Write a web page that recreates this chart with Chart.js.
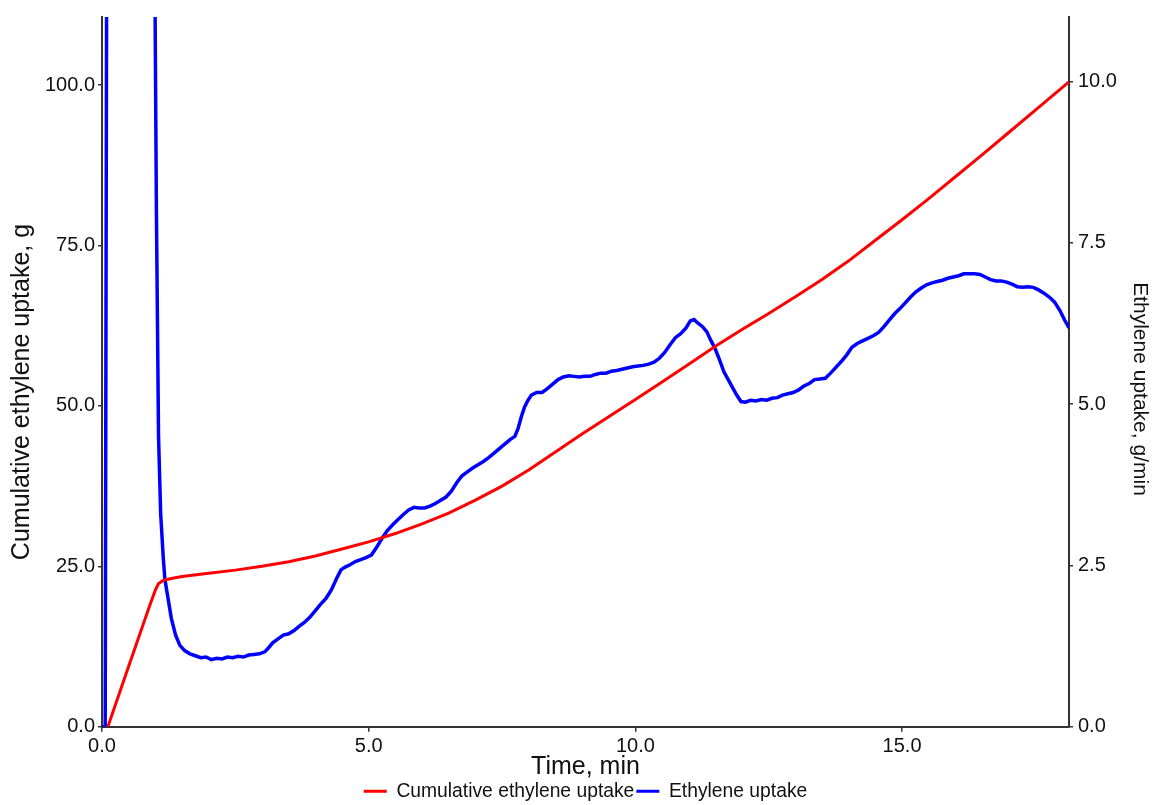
<!DOCTYPE html>
<html>
<head>
<meta charset="utf-8">
<script src="https://cdn.jsdelivr.net/npm/chart.js@4.4.1/dist/chart.umd.min.js"></script>
<style>
  html, body { margin: 0; padding: 0; background: #fff; }
  #wrap { width: 1156px; height: 805px; }
</style>
</head>
<body>
<div id="wrap"><canvas id="c" width="1156" height="805"></canvas></div>
<script>
// Cumulative ethylene uptake (g) against time (min)
const cumTime = [0.11, 0.4, 0.7, 0.9, 1.0, 1.06, 1.15, 1.3, 1.5, 2.0, 2.5, 3.0, 3.5, 4.0, 4.5, 5.0, 5.5, 6.0, 6.5, 7.0, 7.5, 8.0, 8.5, 9.0, 9.5, 10.0, 10.5, 11.0, 11.5, 12.0, 12.5, 13.0, 13.5, 14.0, 14.5, 15.0, 15.5, 16.0, 16.5, 17.0, 17.5, 18.13];
const cumUptake = [0, 7.0, 14.2, 19.0, 21.3, 22.3, 22.8, 23.1, 23.4, 23.9, 24.4, 25.0, 25.7, 26.6, 27.7, 28.8, 30.1, 31.6, 33.3, 35.3, 37.5, 40.0, 42.8, 45.6, 48.3, 51.0, 53.7, 56.5, 59.3, 61.9, 64.4, 67.0, 69.7, 72.6, 75.8, 79.0, 82.3, 85.7, 89.1, 92.6, 96.1, 100.5];

// Ethylene uptake rate (g/min) against time (min)
const rateTime = [0.0, 0.06, 0.09, 0.98, 1.02, 1.06, 1.10, 1.15, 1.18, 1.22, 1.30, 1.38, 1.46, 1.55, 1.65, 1.75, 1.85, 1.95, 2.05, 2.15, 2.25, 2.35, 2.45, 2.55, 2.65, 2.75, 2.85, 2.95, 3.05, 3.12, 3.20, 3.30, 3.40, 3.50, 3.60, 3.70, 3.80, 3.90, 4.00, 4.10, 4.20, 4.30, 4.40, 4.48, 4.55, 4.65, 4.75, 4.85, 4.95, 5.05, 5.15, 5.25, 5.35, 5.45, 5.55, 5.65, 5.75, 5.85, 5.95, 6.05, 6.15, 6.25, 6.35, 6.45, 6.55, 6.65, 6.75, 6.85, 6.95, 7.05, 7.15, 7.25, 7.35, 7.45, 7.55, 7.65, 7.74, 7.80, 7.86, 7.92, 7.98, 8.05, 8.15, 8.25, 8.35, 8.45, 8.55, 8.65, 8.75, 8.85, 8.95, 9.05, 9.15, 9.25, 9.35, 9.45, 9.55, 9.65, 9.75, 9.85, 9.95, 10.05, 10.15, 10.25, 10.35, 10.45, 10.55, 10.65, 10.75, 10.85, 10.95, 11.03, 11.10, 11.18, 11.26, 11.34, 11.42, 11.50, 11.58, 11.66, 11.74, 11.82, 11.90, 11.98, 12.06, 12.16, 12.26, 12.36, 12.46, 12.56, 12.66, 12.76, 12.86, 12.96, 13.06, 13.16, 13.26, 13.36, 13.46, 13.56, 13.66, 13.76, 13.86, 13.96, 14.06, 14.16, 14.26, 14.36, 14.46, 14.56, 14.66, 14.76, 14.86, 14.96, 15.06, 15.16, 15.26, 15.36, 15.46, 15.56, 15.66, 15.76, 15.86, 15.96, 16.06, 16.16, 16.26, 16.36, 16.46, 16.56, 16.66, 16.76, 16.86, 16.96, 17.06, 17.16, 17.26, 17.36, 17.46, 17.56, 17.66, 17.76, 17.86, 17.96, 18.05, 18.13];
const rateUptake = [0, 0, 13, 13, 8.0, 4.5, 3.3, 2.6, 2.28, 2.08, 1.68, 1.42, 1.26, 1.18, 1.13, 1.10, 1.07, 1.08, 1.04, 1.06, 1.05, 1.08, 1.07, 1.09, 1.08, 1.11, 1.12, 1.13, 1.16, 1.22, 1.30, 1.36, 1.42, 1.44, 1.49, 1.56, 1.62, 1.70, 1.80, 1.90, 1.99, 2.12, 2.30, 2.43, 2.47, 2.51, 2.56, 2.59, 2.62, 2.66, 2.78, 2.92, 3.04, 3.13, 3.21, 3.29, 3.36, 3.40, 3.39, 3.39, 3.42, 3.46, 3.51, 3.56, 3.65, 3.78, 3.89, 3.95, 4.01, 4.06, 4.11, 4.17, 4.24, 4.31, 4.38, 4.45, 4.50, 4.62, 4.80, 4.95, 5.05, 5.14, 5.18, 5.18, 5.24, 5.31, 5.38, 5.42, 5.44, 5.43, 5.42, 5.43, 5.43, 5.46, 5.48, 5.48, 5.51, 5.52, 5.54, 5.56, 5.58, 5.59, 5.60, 5.62, 5.65, 5.71, 5.80, 5.92, 6.03, 6.09, 6.18, 6.29, 6.31, 6.25, 6.20, 6.12, 5.98, 5.85, 5.68, 5.50, 5.38, 5.26, 5.14, 5.04, 5.03, 5.06, 5.05, 5.07, 5.06, 5.09, 5.10, 5.14, 5.16, 5.18, 5.22, 5.28, 5.32, 5.38, 5.39, 5.40, 5.48, 5.57, 5.66, 5.76, 5.88, 5.94, 5.98, 6.02, 6.06, 6.11, 6.20, 6.30, 6.40, 6.48, 6.57, 6.66, 6.74, 6.80, 6.85, 6.88, 6.90, 6.92, 6.95, 6.97, 6.99, 7.02, 7.02, 7.02, 7.01, 6.97, 6.93, 6.91, 6.91, 6.89, 6.86, 6.82, 6.81, 6.82, 6.81, 6.77, 6.72, 6.66, 6.58, 6.45, 6.30, 6.18];

// Axis tick positions
const timeTicks = [0, 5, 10, 15];
const cumTicks = [0, 25, 50, 75, 100];
const rateTicks = [0, 2.5, 5, 7.5, 10];

const FONT = "'Liberation Sans', Arial, sans-serif";
const AXIS = '#333333';
const TEXT = '#111111';

const toPoints = (xs, ys) => xs.map((x, i) => ({ x: x, y: ys[i] }));
const fixedTicks = list => scale => { scale.ticks = list.map(v => ({ value: v })); };

// Vertical axis titles, placed beside each y axis
const yTitles = {
  id: 'yTitles',
  afterDraw(chart) {
    const ctx = chart.ctx;
    const items = [
      { text: 'Cumulative ethylene uptake, g', x: 22, y: 392, size: 25, rot: -Math.PI / 2 },
      { text: 'Ethylene uptake, g/min', x: 1140, y: 389, size: 21, rot: Math.PI / 2 }
    ];
    items.forEach(t => {
      ctx.save();
      ctx.translate(t.x, t.y);
      ctx.rotate(t.rot);
      ctx.font = t.size + 'px ' + FONT;
      ctx.fillStyle = TEXT;
      ctx.textAlign = 'center';
      ctx.textBaseline = 'middle';
      ctx.fillText(t.text, 0, 0);
      ctx.restore();
    });
  }
};

new Chart(document.getElementById('c'), {
  type: 'scatter',
  plugins: [yTitles],
  data: {
    datasets: [
      {
        label: 'Cumulative ethylene uptake',
        data: toPoints(cumTime, cumUptake),
        yAxisID: 'y',
        showLine: true,
        borderColor: '#ff0000',
        backgroundColor: '#ff0000',
        borderWidth: 3,
        pointRadius: 0,
        tension: 0
      },
      {
        label: 'Ethylene uptake',
        data: toPoints(rateTime, rateUptake),
        yAxisID: 'y1',
        showLine: true,
        borderColor: '#0000ff',
        backgroundColor: '#0000ff',
        borderWidth: 3.5,
        pointRadius: 0,
        tension: 0
      }
    ]
  },
  options: {
    responsive: false,
    animation: false,
    devicePixelRatio: 1,
    layout: { padding: { top: 17, left: 0, right: 0, bottom: -6 } },
    plugins: {
      tooltip: { enabled: false },
      legend: {
        position: 'bottom',
        align: 'center',
        fullSize: false,
        labels: {
          font: { family: FONT, size: 19.3 },
          color: TEXT,
          boxWidth: 23,
          boxHeight: 3,
          padding: 2,
          generateLabels: ch => Chart.defaults.plugins.legend.labels.generateLabels(ch)
            .map(l => Object.assign(l, { lineWidth: 0 }))
        }
      }
    },
    scales: {
      x: {
        type: 'linear',
        position: 'bottom',
        min: 0,
        max: 18.13,
        afterBuildTicks: fixedTicks(timeTicks),
        afterFit: s => { s.height = 53; },
        ticks: {
          callback: v => Number(v).toFixed(1),
          font: { family: FONT, size: 20 },
          color: TEXT,
          padding: 3,
          maxRotation: 0
        },
        grid: { drawOnChartArea: false, tickLength: 5, color: AXIS, lineWidth: 1.5 },
        border: { color: AXIS, width: 2 },
        title: {
          display: true,
          text: 'Time, min',
          font: { family: FONT, size: 25, lineHeight: 1 },
          color: TEXT,
          padding: { top: 0, bottom: 0 }
        }
      },
      y: {
        type: 'linear',
        position: 'left',
        min: 0,
        max: 110.6,
        afterBuildTicks: fixedTicks(cumTicks),
        afterFit: s => { s.width = 102; },
        ticks: {
          callback: v => Number(v).toFixed(1),
          font: { family: FONT, size: 20 },
          color: TEXT,
          padding: 3
        },
        grid: { drawOnChartArea: false, tickLength: 4, color: AXIS, lineWidth: 1.5 },
        border: { color: AXIS, width: 2 }
      },
      y1: {
        type: 'linear',
        position: 'right',
        min: 0,
        max: 11,
        afterBuildTicks: fixedTicks(rateTicks),
        afterFit: s => { s.width = 87; },
        ticks: {
          callback: v => Number(v).toFixed(1),
          font: { family: FONT, size: 20 },
          color: TEXT,
          padding: 5
        },
        grid: { drawOnChartArea: false, tickLength: 4, color: AXIS, lineWidth: 1.5 },
        border: { color: AXIS, width: 2 }
      }
    }
  }
});
</script>
</body>
</html>
